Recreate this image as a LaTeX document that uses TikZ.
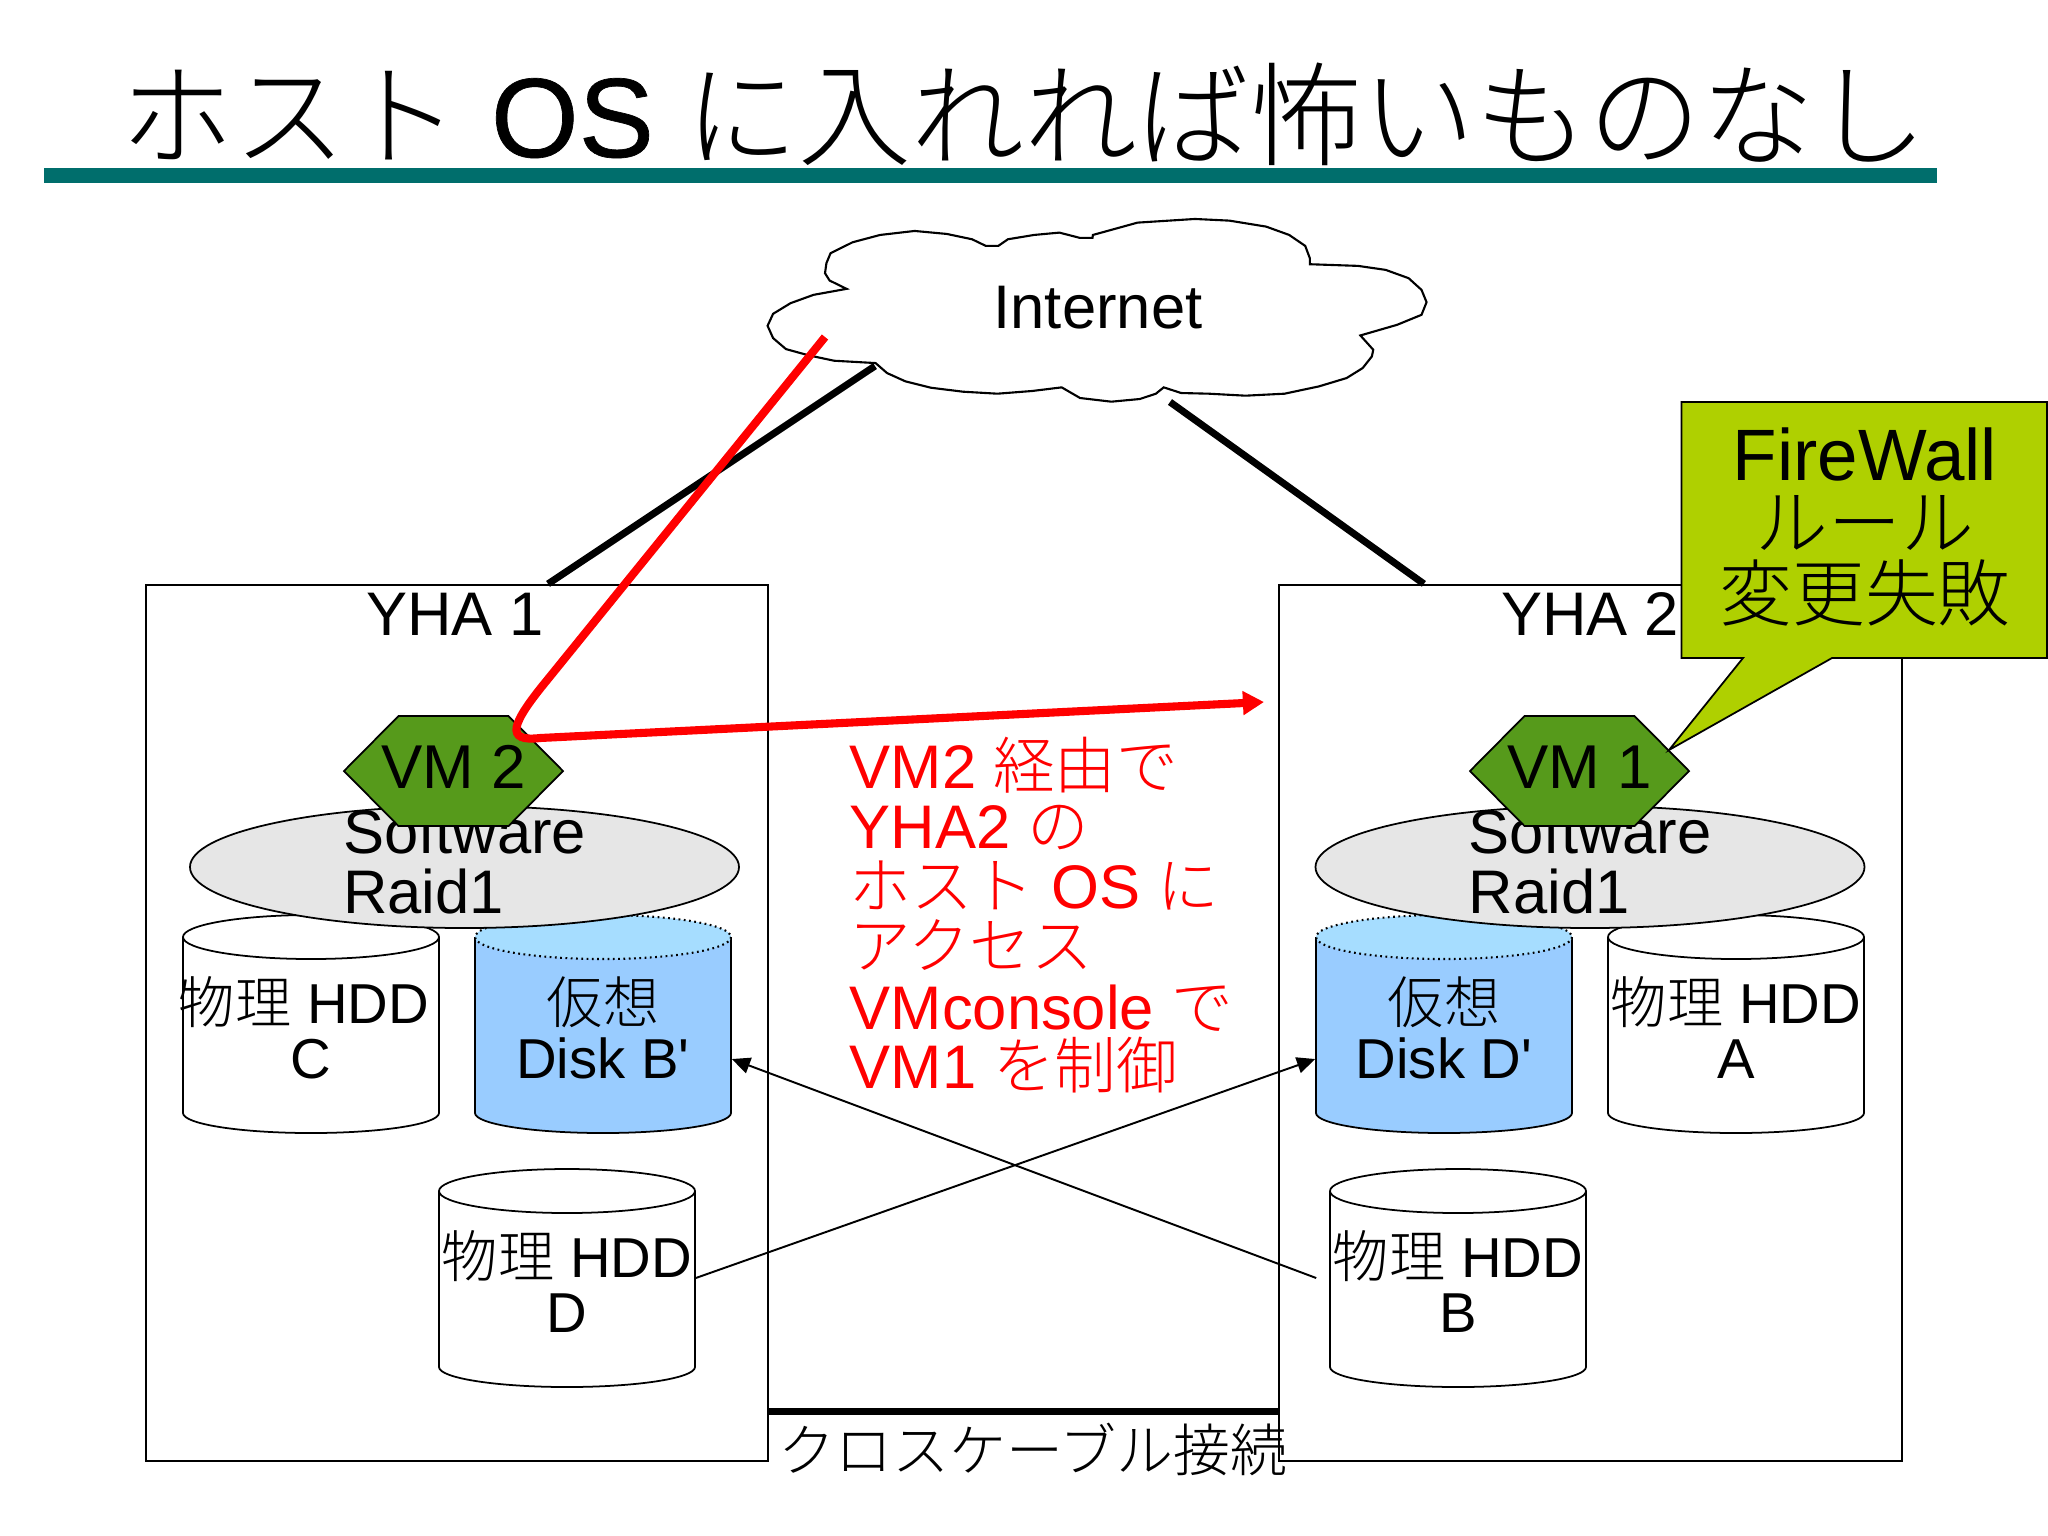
\documentclass[tikz,border=0pt]{standalone}
\usepackage{fontspec}
\usetikzlibrary{arrows.meta}
\newfontfamily\arialfont{Liberation Sans}
\newfontfamily\headfont[FakeBold=0.6]{Liberation Sans}
\newfontfamily\cjk{Noto Sans CJK JP Light}
\newcommand{\jp}[1]{{\cjk #1}}
\definecolor{railteal}{HTML}{006E6C}
\definecolor{hexgreen}{HTML}{569A1B}
\definecolor{calloutgreen}{HTML}{AFD000}
\definecolor{raidgray}{HTML}{E6E6E6}
\definecolor{diskblue}{HTML}{99CCFF}
\definecolor{diskcap}{HTML}{A6DDFF}
\tikzset{
  thinline/.style={draw=black, line width=0.5pt},
  hostbox/.style={thinline, fill=white, minimum width=6.22cm, minimum height=8.76cm, inner sep=0pt},
  hddbox/.style={minimum width=2.56cm, minimum height=2.18cm, inner sep=0pt},
  lbl/.style={inner sep=0pt, anchor=base, font=\fontsize{17.5}{17.5}\selectfont},
  lblw/.style={lbl, anchor=base west},
  vmlbl/.style={lbl, font=\fontsize{17.6}{17.6}\selectfont},
  hddlbl/.style={lbl, font=\fontsize{16}{16}\selectfont},
  calllbl/.style={lbl, font=\fontsize{20.7}{20.7}\selectfont},
  cablelbl/.style={lbl, font=\fontsize{16.2}{16.2}\selectfont},
  titlelbl/.style={lbl, font=\fontsize{32.1}{32.1}\selectfont},
  uplink/.style={line width=2pt},
  cable/.style={line width=2pt},
  crossarrow/.style={line width=0.55pt, -{Triangle[length=5.2pt,width=4.6pt]}},
  redroute/.style={red, line width=2.3pt, -{Triangle[length=6pt,width=6.5pt]}}
}
\begin{document}
\arialfont
\begin{tikzpicture}[x=0.01cm, y=-0.01cm]
  \useasboundingbox (0,0) rectangle (2048,1535);
  % title
  \node[titlelbl] (title) at (1024,157) {\jp{ホスト} {\headfont OS} \jp{に入れれば怖いものなし}};
  \fill[railteal] (44,168) rectangle (1937,183);
  % hosts
  \node[hostbox] (yha1) at (457,1023) {};
  \node[hostbox] (yha2) at (1590.5,1023) {};
  \node[lbl] (yha1lbl) at (455,635) {YHA 1};
  \node[lbl] (yha2lbl) at (1590,635) {YHA 2};
  % cloud
  \coordinate (cloudL) at (875,366);
  \coordinate (cloudR) at (1170,402);
  \draw[uplink] (cloudL) -- ([xshift=0.91cm]yha1.north);
  \draw[uplink] (cloudR) -- ([xshift=-1.665cm]yha2.north);
  \begin{scope}[shift={(740,190)}, x=0.004591cm, y=-0.003333cm]
    \draw[thinline, fill=white, line width=0.6pt] plot coordinates {(60,408) (72,372) (110,340) (160,315) (232,297)
      (195,272) (185,250) (188,220) (197,190) (245,157) (305,135) (380,123) (450,132) (505,148) (535,168)
      (562,168) (583,148) (640,135) (695,128) (740,144) (767,144) (768,135) (865,98) (990,87) (1065,92)
      (1145,110) (1195,135) (1230,168) (1240,205) (1240,223) (1345,228) (1405,240) (1455,265) (1483,300)
      (1494,337) (1483,375) (1430,405) (1350,437) (1378,480) (1375,500) (1355,535) (1320,565) (1260,590)
      (1185,612) (1100,618) (1020,612) (960,610) (922,593) (905,612) (870,628) (808,636) (740,625) (700,593)
      (635,604) (560,612) (485,606) (415,594) (360,575) (320,550) (295,520) (205,513) (150,497) (100,478)
      (72,445)} -- cycle;
  \end{scope}
  \node[lbl] (internet) at (1098,328) {Internet};
  % physical disks
  \foreach \n/\x/\y/\dx/\lab in {hddC/311/915/-7/C, hddA/1736/915/0/A, hddD/567/1169/0/D, hddB/1458/1169/0/B}{
    \draw[thinline, fill=white] (\x-128,\y+22) -- (\x-128,\y+198) arc (180:0:128 and 20) -- (\x+128,\y+22);
    \draw[thinline, fill=white] (\x,\y+22) ellipse (128 and 22);
    \node[hddbox] (\n) at (\x,\y+109) {};
    \node[hddlbl] (\n top) at (\x+\dx,\y+108) {\jp{物理} HDD};
    \node[hddlbl] (\n bot) at (\x,\y+163) {\lab};
  }
  % virtual disks
  \foreach \n/\x/\lab in {diskB/603/B', diskD/1444/D'}{
    \fill[diskblue] (\x-128,937) -- (\x-128,1113) arc (180:0:128 and 20) -- (\x+128,937) -- cycle;
    \draw[thinline] (\x-128,937) -- (\x-128,1113) arc (180:0:128 and 20) -- (\x+128,937);
    \draw[thinline, densely dotted, line width=0.6pt, fill=diskcap] (\x,937) ellipse (128 and 22);
    \node[hddbox] (\n) at (\x,1024) {};
    \node[hddlbl] (\n top) at (\x,1023) {\jp{仮想}};
    \node[hddlbl] (\n bot) at (\x,1078) {Disk \lab};
  }
  % raid
  \foreach \n/\x in {raidL/464.5, raidR/1590}{
    \draw[thinline, fill=raidgray] (\x,867) ellipse (274.5 and 61);
    \node[lblw] (\n a) at (\x-122,853) {Software};
    \node[lblw] (\n b) at (\x-122,913) {Raid1};
  }
  % vm
  \foreach \n/\x/\lab in {vm2/453.5/VM 2, vm1/1579.5/VM 1}{
    \draw[thinline, fill=hexgreen] (\x-109.5,771) -- (\x-55,716) -- (\x+55,716) -- (\x+109.5,771) -- (\x+55,826) -- (\x-55,826) -- cycle;
    \node[vmlbl] (\n) at (\x,788) {\lab};
  }
  % crossing links
  \coordinate (crossB) at ([xshift=-0.13cm]hddB.west);
  \draw[crossarrow] (hddD.east) -- ([yshift=-0.35cm]diskD.west);
  \draw[crossarrow] (crossB) -- ([yshift=-0.35cm]diskB.east);
  \coordinate (cabley) at (1024,1411.5);
  \draw[cable] (yha1.east |- cabley) -- (yha2.west |- cabley);
  \node[cablelbl] (cablelabel) at (1033,1471) {\jp{クロスケーブル接続}};
  % callout
  \draw[thinline, fill=calloutgreen] (1681.5,402) -- (2047,402) -- (2047,658) -- (1832,658) -- (1669,750) -- (1743,658) -- (1681.5,658) -- cycle;
  \node[calllbl] (fw1) at (1865,480) {FireWall};
  \node[calllbl] (fw2) at (1865,549) {\jp{ルール}};
  \node[calllbl] (fw3) at (1865,620) {\jp{変更失敗}};
  % red route
  \coordinate (redstart) at (825,337);
  \coordinate (redend) at (1264,702);
  \draw[redroute] (redstart) -- (548,679) .. controls (510,725) and (505,742) .. (540,738) -- (redend);
  \foreach \i/\y/\lab in {1/788/VM2 \jp{経由で}, 2/848/YHA2 \jp{の}, 3/908/\jp{ホスト} OS \jp{に}, 4/968/\jp{アクセス}, 5/1029/VMconsole \jp{で}, 6/1088/VM1 \jp{を制御}}{
    \node[lblw, red] (msg\i) at (849,\y) {\lab};
  }
\end{tikzpicture}
\end{document}
